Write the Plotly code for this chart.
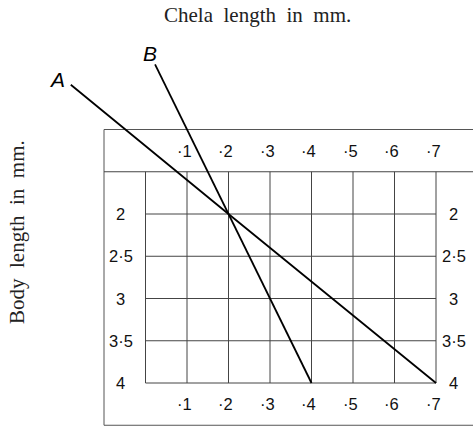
import plotly.graph_objects as go

# Chela length (mm) on the horizontal scale, body length (mm) on the vertical scale
chela_ticks = [0.1, 0.2, 0.3, 0.4, 0.5, 0.6, 0.7]
chela_labels = ["·1", "·2", "·3", "·4", "·5", "·6", "·7"]
body_ticks = [2.0, 2.5, 3.0, 3.5, 4.0]
body_labels = ["2", "2·5", "3", "3·5", "4"]

# Growth lines A and B
line_a_x = [-0.18, 0.2, 0.7]
line_a_y = [0.47, 2.0, 4.0]
line_b_x = [0.023, 0.2, 0.3, 0.4]
line_b_y = [0.23, 2.0, 3.0, 4.0]

# grid and frame extents (data units)
grid_x0, grid_x1 = 0.0, 0.7
grid_y0, grid_y1 = 1.5, 4.0
frame_x0, frame_x1 = -0.1, 0.8
frame_y0, frame_y1 = 1.0, 4.5

W, H = 473, 426
# pixel -> data calibration of the full canvas
X_ORIGIN_PX, X_PX_PER_UNIT = 145.5, 415.0
Y_ORIGIN_PX, Y_PX_PER_UNIT, Y_ORIGIN_VAL = 214.0, 84.5, 2.0
x_range = [(0 - X_ORIGIN_PX) / X_PX_PER_UNIT, (W - X_ORIGIN_PX) / X_PX_PER_UNIT]
y_range = [Y_ORIGIN_VAL + (H - Y_ORIGIN_PX) / Y_PX_PER_UNIT,
           Y_ORIGIN_VAL + (0 - Y_ORIGIN_PX) / Y_PX_PER_UNIT]

grid_color = "#444444"
shapes = []


def seg(x0, y0, x1, y1, color=grid_color, width=1):
    shapes.append(dict(type="line", xref="x", yref="y", x0=x0, y0=y0, x1=x1, y1=y1,
                       line=dict(color=color, width=width), layer="below"))


# outer frame (right side runs off the page)
seg(frame_x0, frame_y0, frame_x1, frame_y0, "#555555")
seg(frame_x0, frame_y1, frame_x1, frame_y1, "#555555")
seg(frame_x0, frame_y0, frame_x0, frame_y1, "#555555")
# top rule of the grid spans the whole frame
seg(frame_x0, grid_y0, frame_x1, grid_y0)
# grid verticals
for xv in [grid_x0] + chela_ticks:
    seg(xv, grid_y0, xv, grid_y1)
# grid horizontals
for yv in body_ticks:
    seg(grid_x0, yv, grid_x1, yv)

fig = go.Figure()
for xs, ys in [(line_a_x, line_a_y), (line_b_x, line_b_y)]:
    fig.add_trace(go.Scatter(x=xs, y=ys, mode="lines",
                             line=dict(color="black", width=1.8),
                             hoverinfo="skip", showlegend=False))

tick_font = dict(family="Liberation Sans, Arial, sans-serif", size=16.5, color="#111111")
annotations = []
for v, t in zip(chela_ticks, chela_labels):
    for yy in [(frame_y0 + grid_y0) / 2, (grid_y1 + frame_y1) / 2]:
        annotations.append(dict(x=v, y=yy, xref="x", yref="y", text=t, showarrow=False,
                                xanchor="center", yanchor="middle", xshift=-3, font=tick_font))
for v, t in zip(body_ticks, body_labels):
    annotations.append(dict(x=(frame_x0 + grid_x0) / 2, y=v, xref="x", yref="y", text=t,
                            showarrow=False, xanchor="center", yanchor="middle",
                            xshift=-4, font=tick_font))
    annotations.append(dict(x=grid_x1 + 0.0425, y=v, xref="x", yref="y", text=t,
                            showarrow=False, xanchor="center", yanchor="middle",
                            font=tick_font))

serif = dict(family="Liberation Serif, Times New Roman, serif", size=21, color="#222222")
annotations.append(dict(x=257, y=15, xref="paper", yref="paper", text="Chela  length  in  mm.",
                        showarrow=False, font=serif, xanchor="center", yanchor="middle"))
annotations.append(dict(x=17, y=232, xref="paper", yref="paper", text="Body  length  in  mm.",
                        showarrow=False, font=serif, textangle=-90,
                        xanchor="center", yanchor="middle"))

letter_font = dict(family="Liberation Sans, Arial, sans-serif", size=21, color="black")
annotations.append(dict(x=-0.213, y=0.41, xref="x", yref="y", text="<i>A</i>",
                        showarrow=False, font=letter_font))
annotations.append(dict(x=0.011, y=0.10, xref="x", yref="y", text="<i>B</i>",
                        showarrow=False, font=letter_font))

# convert the paper-positioned titles from pixels to paper fractions
for a in annotations:
    if a["xref"] == "paper":
        a["x"] = a["x"] / W
        a["y"] = 1 - a["y"] / H

fig.update_layout(
    width=W, height=H,
    margin=dict(l=0, r=0, t=0, b=0),
    paper_bgcolor="white", plot_bgcolor="white",
    xaxis=dict(range=x_range, visible=False, fixedrange=True),
    yaxis=dict(range=y_range, visible=False, fixedrange=True),
    shapes=shapes,
    annotations=annotations,
)

fig.write_html("out.html")
